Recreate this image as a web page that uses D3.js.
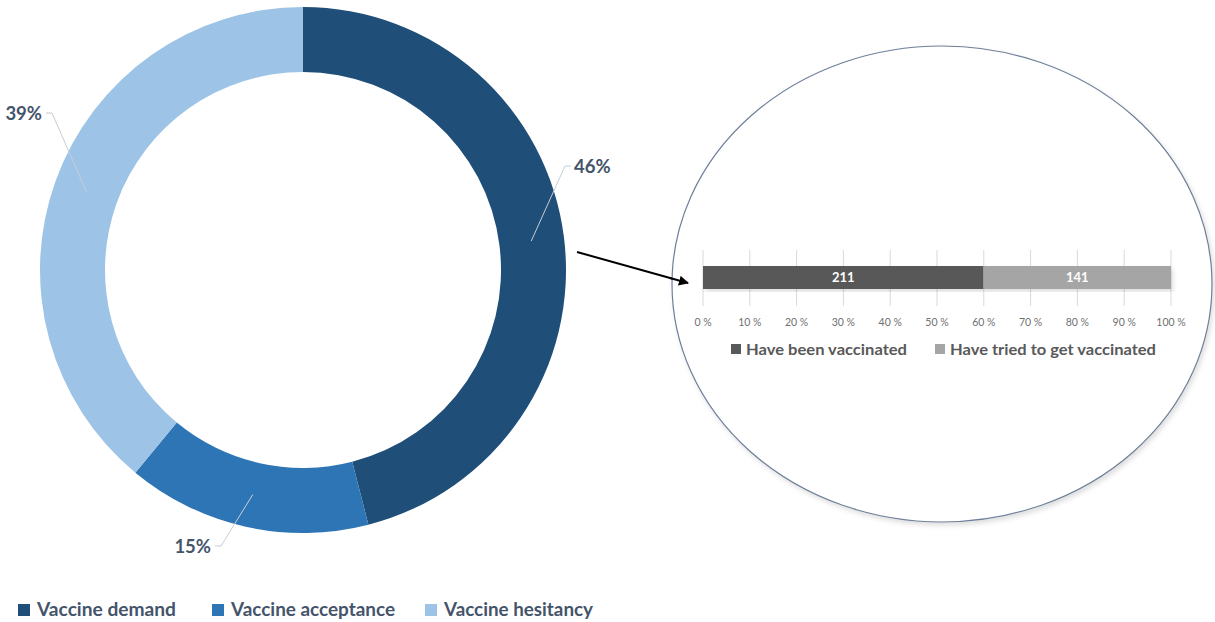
<!DOCTYPE html>
<html>
<head>
<meta charset="utf-8">
<script src="https://cdn.jsdelivr.net/npm/d3@7"></script>
<style>
  body { margin: 0; background: #fff; }
  svg { display: block; font-family: Lato, "Open Sans", sans-serif; }
</style>
</head>
<body>
<div id="chart"></div>
<script>
// Donut data (share of respondents)
const groups = ["Vaccine demand", "Vaccine acceptance", "Vaccine hesitancy"];
const shares = [46, 15, 39];
const groupColors = ["#1F4E79", "#2E75B6", "#9DC3E6"];

// Zoomed-in bar: vaccine demand breakdown
const demandParts = ["Have been vaccinated", "Have tried to get vaccinated"];
const demandCounts = [211, 141];
const partColors = ["#595959", "#A5A5A5"];
const pctTicks = [0, 0.1, 0.2, 0.3, 0.4, 0.5, 0.6, 0.7, 0.8, 0.9, 1];

const width = 1215, height = 622;
const labelColor = "#44546A";

const svg = d3.select("#chart").append("svg")
    .attr("width", width)
    .attr("height", height);

const defs = svg.append("defs");
const shadow = defs.append("filter").attr("id", "shadow")
    .attr("x", "-10%").attr("y", "-10%").attr("width", "120%").attr("height", "120%");
shadow.append("feDropShadow")
    .attr("dx", 2).attr("dy", 3).attr("stdDeviation", 2.5)
    .attr("flood-color", "#000").attr("flood-opacity", 0.13);

defs.append("marker").attr("id", "arrow")
    .attr("viewBox", "0 0 10 10").attr("refX", 9).attr("refY", 5)
    .attr("markerWidth", 5).attr("markerHeight", 5).attr("orient", "auto")
    .append("path").attr("d", "M0,0 L10,5 L0,10 z").attr("fill", "#000");

// ─── DONUT ─────────────────────────────────────────
const cx = 303, cy = 270, rOuter = 263, rInner = 198;
const pie = d3.pie().sort(null).value(d => d)(shares);
const arc = d3.arc().innerRadius(rInner).outerRadius(rOuter);
const mid = d3.arc().innerRadius(230).outerRadius(230);

const donut = svg.append("g").attr("transform", `translate(${cx},${cy})`);
donut.selectAll("path.slice")
    .data(pie)
    .enter().append("path")
    .attr("class", "slice")
    .attr("d", arc)
    .attr("fill", (d, i) => groupColors[i]);

// leader lines: elbow offsets relative to donut center, label side
const leaders = [
    { elbow: [262, -104], dir: 1, anchor: "start", gap: 3 },
    { elbow: [-82, 276], dir: -1, anchor: "end", gap: 4 },
    { elbow: [-251, -157], dir: -1, anchor: "end", gap: 4 }
];
pie.forEach((d, i) => {
    const [px, py] = mid.centroid(d);
    const L = leaders[i];
    const ex = L.elbow[0], ey = L.elbow[1];
    const hx = ex + L.dir * 6;
    donut.append("polyline")
        .attr("points", `${px},${py} ${ex},${ey} ${hx},${ey}`)
        .attr("fill", "none")
        .attr("stroke", "#C8CDD4")
        .attr("stroke-width", 1);
    donut.append("text")
        .attr("x", hx + L.dir * L.gap)
        .attr("y", ey)
        .attr("dy", "0.36em")
        .attr("text-anchor", L.anchor)
        .attr("font-size", 18.5)
        .attr("font-weight", "bold")
        .attr("fill", labelColor)
        .text(d.data + "%");
});

// main legend
const legendX = [18, 212, 425];
const legendW = [139, 164, 149];
const legend = svg.append("g");
groups.forEach((g, i) => {
    legend.append("rect")
        .attr("x", legendX[i]).attr("y", 604)
        .attr("width", 12).attr("height", 12)
        .attr("fill", groupColors[i]);
    legend.append("text")
        .attr("x", legendX[i] + 19).attr("y", 610)
        .attr("dy", "0.36em")
        .attr("font-size", 18)
        .attr("font-weight", "bold")
        .attr("fill", labelColor)
        .attr("textLength", legendW[i])
        .attr("lengthAdjust", "spacingAndGlyphs")
        .text(g);
});

// ─── ARROW + ELLIPSE ──────────────────────────────
svg.append("line")
    .attr("x1", 577).attr("y1", 252)
    .attr("x2", 688).attr("y2", 283)
    .attr("stroke", "#000").attr("stroke-width", 2)
    .attr("marker-end", "url(#arrow)");

svg.append("ellipse")
    .attr("cx", 942).attr("cy", 284)
    .attr("rx", 270).attr("ry", 238)
    .attr("fill", "#fff")
    .attr("stroke", "#6E7F99")
    .attr("stroke-width", 1.2)
    .attr("filter", "url(#shadow)");

// arrow tip drawn again on top of the ellipse
svg.append("line")
    .attr("x1", 670).attr("y1", 278)
    .attr("x2", 688).attr("y2", 283)
    .attr("stroke", "#000").attr("stroke-width", 2)
    .attr("marker-end", "url(#arrow)");

// ─── STACKED 100% BAR ─────────────────────────────
const x = d3.scaleLinear().domain([0, 1]).range([703, 1171]);
const barTop = 266, barH = 23;
const total = d3.sum(demandCounts);
let acc = 0;
const stacks = demandCounts.map((v, i) => {
    const s = { start: acc / total, end: (acc + v) / total, value: v, i };
    acc += v;
    return s;
});

const bar = svg.append("g");
bar.selectAll("line.grid")
    .data(pctTicks)
    .enter().append("line")
    .attr("class", "grid")
    .attr("x1", d => x(d)).attr("x2", d => x(d))
    .attr("y1", 250).attr("y2", 306)
    .attr("stroke", "#D9D9D9").attr("stroke-width", 1);

bar.selectAll("rect.seg")
    .data(stacks)
    .enter().append("rect")
    .attr("class", "seg")
    .attr("x", d => x(d.start))
    .attr("y", barTop)
    .attr("width", d => x(d.end) - x(d.start))
    .attr("height", barH)
    .attr("fill", d => partColors[d.i])
    .attr("filter", "url(#shadow)");

bar.selectAll("text.val")
    .data(stacks)
    .enter().append("text")
    .attr("class", "val")
    .attr("x", d => (x(d.start) + x(d.end)) / 2)
    .attr("y", barTop + barH / 2)
    .attr("dy", "0.36em")
    .attr("text-anchor", "middle")
    .attr("font-size", 13)
    .attr("font-weight", "bold")
    .attr("fill", "#fff")
    .text(d => d.value);

bar.selectAll("text.tick")
    .data(pctTicks)
    .enter().append("text")
    .attr("class", "tick")
    .attr("x", d => x(d))
    .attr("y", 322)
    .attr("dy", "0.36em")
    .attr("text-anchor", "middle")
    .attr("font-size", 10.5)
    .attr("fill", "#707070")
    .text(d => Math.round(d * 100) + " %");

const partLegendX = [731, 935];
const partLegendW = [161, 206];
demandParts.forEach((p, i) => {
    bar.append("rect")
        .attr("x", partLegendX[i]).attr("y", 344)
        .attr("width", 10).attr("height", 10)
        .attr("fill", partColors[i]);
    bar.append("text")
        .attr("x", partLegendX[i] + 15).attr("y", 349)
        .attr("dy", "0.36em")
        .attr("font-size", 16)
        .attr("font-weight", "bold")
        .attr("fill", "#595959")
        .attr("textLength", partLegendW[i])
        .attr("lengthAdjust", "spacingAndGlyphs")
        .text(p);
});
</script>
</body>
</html>
